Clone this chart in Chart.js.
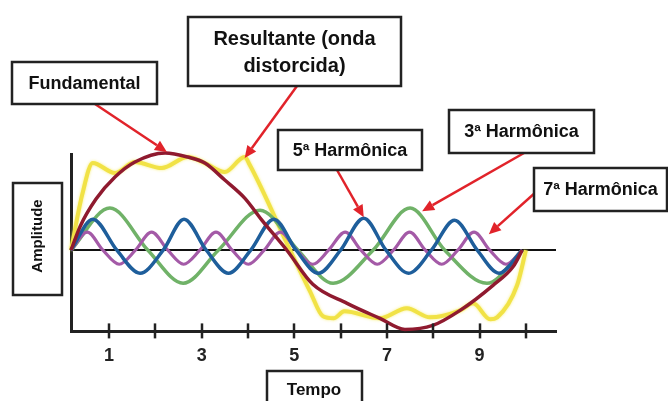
<!DOCTYPE html>
<html>
<head>
<meta charset="utf-8">
<script src="https://cdn.jsdelivr.net/npm/chart.js@4/dist/chart.umd.min.js"></script>
<style>
  html, body { margin: 0; padding: 0; background: #fff; }
  #wrap { position: relative; width: 668px; height: 401px; }
</style>
</head>
<body>
<div id="wrap"><canvas id="chart"></canvas></div>
<script>
// [tempo, amplitude]
const fundamental = [[0.18,0],[0.38,2.4],[0.72,5.1],[1.13,7.3],[1.56,8.8],[2.21,9.7],[2.70,9.3],[3.07,8.7],[3.50,7.0],[3.93,5.2],[4.30,3.0],[4.84,0],[5.40,-3.4],[6.14,-5.3],[6.85,-6.8],[7.39,-7.9],[7.99,-7.5],[8.58,-6.0],[9.29,-3.5],[9.73,-1.6],[9.92,0]];
const harm3 = [[0.18,0],[1.02,4.2],[1.84,0],[2.60,-3.3],[3.36,0],[4.26,4.0],[5.08,0],[5.84,-3.3],[6.70,0],[7.50,4.2],[8.25,0],[9.16,-3.3],[9.92,0]];
const harm5 = [[0.18,0],[0.65,3.1],[1.17,0],[1.67,-2.3],[2.17,0],[2.62,3.1],[3.10,0],[3.58,-2.3],[4.06,0],[4.56,3.1],[5.04,0],[5.52,-2.3],[6.00,0],[6.50,3.2],[6.98,0],[7.47,-2.3],[7.96,0],[8.46,3.0],[8.95,0],[9.42,-2.3],[9.92,0]];
const harm7 = [[0.18,0],[0.53,1.8],[0.87,0],[1.22,-1.4],[1.57,0],[1.92,1.8],[2.27,0],[2.61,-1.4],[2.96,0],[3.31,1.8],[3.66,0],[4.01,-1.4],[4.35,0],[4.70,1.8],[5.05,0],[5.40,-1.4],[5.74,0],[6.10,1.8],[6.44,0],[6.79,-1.4],[7.14,0],[7.49,1.8],[7.83,0],[8.18,-1.4],[8.53,0],[8.88,1.8],[9.22,0],[9.57,-1.4],[9.92,0]];
const resultant = [[0.18,0],[0.42,5.5],[0.65,8.7],[1.13,7.7],[1.56,8.8],[2.14,8.2],[2.70,9.3],[3.07,8.7],[3.50,7.8],[3.93,9.3],[4.04,8.5],[4.91,0],[5.34,-4.1],[5.62,-6.6],[5.85,-6.8],[6.08,-6.1],[6.85,-6.8],[7.43,-5.8],[7.93,-6.7],[8.58,-6.0],[8.86,-5.3],[9.23,-6.9],[9.38,-6.7],[9.81,-3.5],[10.0,0]];

const timeTicks = [1, 2, 3, 4, 5, 6, 7, 8, 9, 10];
const tickLabels = [1, 3, 5, 7, 9];

const FONT = '"Liberation Sans", Arial, sans-serif';

// callouts: box in pixels, arrow tip in data units
const callouts = [
    { lines: ['Fundamental'], size: 18, box: [12, 62, 145, 42], from: [95, 104], tip: [2.25, 9.8] },
    { lines: ['Resultante (onda', 'distorcida)'], size: 20, box: [188, 17, 213, 69], from: [297, 86], tip: [3.93, 9.2] },
    { lines: ['5ª Harmônica'], size: 18, box: [278, 130, 144, 40], from: [337, 170], tip: [6.50, 3.3] },
    { lines: ['3ª Harmônica'], size: 18, box: [449, 110, 145, 43], from: [524, 153], tip: [7.76, 3.9] },
    { lines: ['7ª Harmônica'], size: 18, box: [534, 168, 133, 43], from: [536, 192], tip: [9.2, 1.6] }
];

const pts = arr => arr.map(p => ({ x: p[0], y: p[1] }));

function line(data, color, width) {
    return {
        data: pts(data),
        borderColor: color,
        borderWidth: width,
        pointRadius: 0,
        fill: false,
        cubicInterpolationMode: 'monotone',
        clip: false
    };
}

function drawArrow(ctx, x1, y1, x2, y2) {
    const a = Math.atan2(y2 - y1, x2 - x1);
    const len = 12, half = 5.5;
    const bx = x2 - len * Math.cos(a), by = y2 - len * Math.sin(a);
    ctx.strokeStyle = '#e1232a';
    ctx.fillStyle = '#e1232a';
    ctx.lineWidth = 2.5;
    ctx.beginPath();
    ctx.moveTo(x1, y1);
    ctx.lineTo(bx, by);
    ctx.stroke();
    ctx.beginPath();
    ctx.moveTo(x2, y2);
    ctx.lineTo(bx + half * Math.sin(a), by - half * Math.cos(a));
    ctx.lineTo(bx - half * Math.sin(a), by + half * Math.cos(a));
    ctx.closePath();
    ctx.fill();
}

function drawBox(ctx, x, y, w, h) {
    ctx.fillStyle = '#fff';
    ctx.fillRect(x, y, w, h);
    ctx.strokeStyle = '#222';
    ctx.lineWidth = 2.5;
    ctx.strokeRect(x, y, w, h);
}

const tickMarks = {
    id: 'tickMarks',
    afterDatasetsDraw(chart) {
        const { ctx, chartArea } = chart;
        const xs = chart.scales.x;
        ctx.save();
        ctx.strokeStyle = '#222';
        ctx.lineWidth = 2.5;
        xs.ticks.forEach(t => {
            const px = Math.round(xs.getPixelForValue(t.value));
            ctx.beginPath();
            ctx.moveTo(px, chartArea.bottom - 8);
            ctx.lineTo(px, chartArea.bottom + 7);
            ctx.stroke();
        });
        ctx.restore();
    }
};

const glow = {
    id: 'glow',
    beforeDatasetDraw(chart, args) {
        if (args.index !== 4) return;
        chart.ctx.save();
        chart.ctx.shadowColor = 'rgba(245,235,90,0.8)';
        chart.ctx.shadowBlur = 3;
    },
    afterDatasetDraw(chart, args) {
        if (args.index === 4) chart.ctx.restore();
    }
};

const labels = {
    id: 'labels',
    afterDraw(chart) {
        const { ctx } = chart;
        const xs = chart.scales.x, ys = chart.scales.y;
        ctx.save();
        callouts.forEach(c => {
            drawArrow(ctx, c.from[0], c.from[1], xs.getPixelForValue(c.tip[0]), ys.getPixelForValue(c.tip[1]));
        });
        callouts.forEach(c => {
            const [x, y, w, h] = c.box;
            drawBox(ctx, x, y, w, h);
            ctx.fillStyle = '#111';
            ctx.font = 'bold ' + c.size + 'px ' + FONT;
            ctx.textAlign = 'center';
            ctx.textBaseline = 'middle';
            const step = c.size * 1.35;
            const y0 = y + h / 2 - (c.lines.length - 1) * step / 2 + 1;
            c.lines.forEach((s, i) => ctx.fillText(s, x + w / 2, y0 + i * step));
        });

        // axis titles
        drawBox(ctx, 13, 183, 49, 112);
        ctx.save();
        ctx.translate(38, 236);
        ctx.rotate(-Math.PI / 2);
        ctx.fillStyle = '#111';
        ctx.font = 'bold 15px ' + FONT;
        ctx.textAlign = 'center';
        ctx.textBaseline = 'middle';
        ctx.fillText('Amplitude', 0, 0);
        ctx.restore();

        drawBox(ctx, 267, 371, 95, 40);
        ctx.fillStyle = '#111';
        ctx.font = 'bold 17px ' + FONT;
        ctx.textAlign = 'center';
        ctx.textBaseline = 'middle';
        ctx.fillText('Tempo', 314, 390);
        ctx.restore();
    }
};

new Chart(document.getElementById('chart'), {
    type: 'line',
    data: {
        datasets: [
            line(fundamental, '#8f1a2f', 3.5),
            line(harm5, '#1e5e9b', 3.5),
            line(harm7, '#a45aa7', 3.2),
            line(harm3, '#70b268', 3.5),
            line(resultant, '#f1e246', 4)
        ]
    },
    options: {
        responsive: true,
        maintainAspectRatio: false,
        animation: false,
        devicePixelRatio: 1,
        layout: { padding: { left: 71, right: 112, top: 154, bottom: 20 } },
        plugins: { legend: { display: false }, tooltip: { enabled: false } },
        scales: {
            x: {
                type: 'linear',
                min: 0.18,
                max: 10.65,
                afterBuildTicks: s => { s.ticks = timeTicks.map(v => ({ value: v })); },
                ticks: {
                    autoSkip: false,
                    maxRotation: 0,
                    padding: 14,
                    color: '#222',
                    font: { family: FONT, size: 18, weight: 'bold' },
                    callback: v => tickLabels.includes(v) ? String(v) : ''
                },
                grid: { display: false, drawTicks: false },
                border: { display: true, color: '#222', width: 3 }
            },
            y: {
                min: -8.1,
                max: 9.6,
                afterBuildTicks: s => { s.ticks = [{ value: 0 }]; },
                ticks: { display: false },
                grid: { drawTicks: false, color: '#111', lineWidth: 2 },
                border: { display: true, color: '#222', width: 3 }
            }
        }
    },
    plugins: [tickMarks, glow, labels]
});
</script>
</body>
</html>
